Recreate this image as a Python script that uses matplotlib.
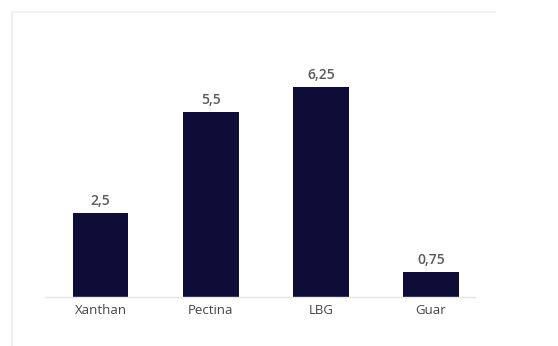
import matplotlib
matplotlib.use("Agg")
import matplotlib.pyplot as plt
from matplotlib.lines import Line2D

categories = ["Xanthan", "Pectina", "LBG", "Guar"]
values = [2.5, 5.5, 6.25, 0.75]
value_labels = ["2,5", "5,5", "6,25", "0,75"]

plt.rcParams['font.family'] = ['Open Sans', 'DejaVu Sans']

fig = plt.figure(figsize=(5.58, 3.46), dpi=100)
fig.patch.set_facecolor('white')

# faint slide frame
fig.add_artist(Line2D([12/558, 12/558], [1 - 12/346, 0], transform=fig.transFigure,
                      color='#ebebeb', lw=1.2))
fig.add_artist(Line2D([12/558, 495/558], [1 - 12/346, 1 - 12/346], transform=fig.transFigure,
                      color='#f0f0f0', lw=1.2))

ax = fig.add_axes([45/558, (346-297)/346, 430/558, 268.8/346])
x = list(range(len(categories)))
ax.bar(x, values, width=0.505, color='#0f0c38')
ax.set_xlim(-0.505, 3.4)
ax.set_ylim(0, 8)

for xi, v, lab in zip(x, values, value_labels):
    ax.text(xi, v + 0.15, lab, ha='center', va='bottom', fontsize=10,
            color='#5a5a5a', fontweight='semibold')

ax.set_xticks(x)
ax.set_xticklabels(categories, fontsize=9.5, color='#454545')
ax.tick_params(axis='x', length=0, pad=5)
ax.set_yticks([])
for s in ['top', 'right', 'left']:
    ax.spines[s].set_visible(False)
ax.spines['bottom'].set_color('#e6e6e6')
ax.spines['bottom'].set_linewidth(1)

fig.savefig('out.png', dpi=100)
